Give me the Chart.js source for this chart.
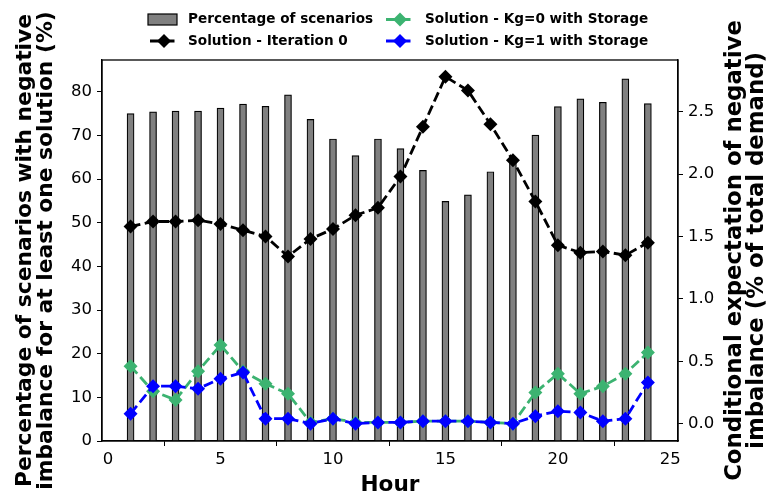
<!DOCTYPE html>
<html>
<head>
<meta charset="utf-8">
<script src="https://cdn.jsdelivr.net/npm/chart.js@4.4.1/dist/chart.umd.min.js"></script>
<style>
  html, body { margin: 0; padding: 0; background: #fff; }
  #wrap { width: 768px; height: 500px; }
</style>
</head>
<body>
<div id="wrap"><canvas id="imbalanceChart" width="768" height="500"></canvas></div>
<script>
// hourly results
const hours = [1, 2, 3, 4, 5, 6, 7, 8, 9, 10, 11, 12, 13, 14, 15, 16, 17, 18, 19, 20, 21, 22, 23, 24];
const pctScenarios = [75.0, 75.4, 75.6, 75.6, 76.3, 77.2, 76.7, 79.3, 73.7, 69.2, 65.4, 69.2,
  67.0, 62.0, 54.9, 56.4, 61.7, 64.0, 70.1, 76.6, 78.4, 77.6, 83.0, 77.3];
const iteration0 = [1.58, 1.62, 1.62, 1.63, 1.60, 1.55, 1.50, 1.34, 1.48, 1.56, 1.67, 1.73,
  1.98, 2.38, 2.78, 2.67, 2.40, 2.11, 1.78, 1.43, 1.37, 1.38, 1.35, 1.45];
const kg0Storage = [0.46, 0.26, 0.19, 0.42, 0.63, 0.42, 0.32, 0.24, 0.01, 0.04, 0.01, 0.01,
  0.01, 0.02, 0.02, 0.02, 0.01, 0.0, 0.25, 0.40, 0.24, 0.30, 0.40, 0.57];
const kg1Storage = [0.08, 0.30, 0.30, 0.28, 0.36, 0.41, 0.04, 0.04, 0.0, 0.04, 0.0, 0.01,
  0.01, 0.02, 0.02, 0.02, 0.01, 0.0, 0.06, 0.10, 0.09, 0.02, 0.04, 0.33];

// tick labels
const hourTicks = [0, 5, 10, 15, 20, 25];
const pctTicks = [0, 10, 20, 30, 40, 50, 60, 70, 80];
const expTicks = [0, 0.5, 1.0, 1.5, 2.0, 2.5];

const FONT = "'DejaVu Sans', 'Liberation Sans', sans-serif";
const GREEN = "#3cb371";
const BLUE = "#0000ff";

function pairs(ys) {
  return hours.map((h, i) => ({ x: h, y: ys[i] }));
}

function fixTicks(list) {
  return function (axis) {
    axis.ticks = list.map((v) => ({ value: v }));
  };
}

function lineSet(label, ys, color, order) {
  return {
    type: "line",
    label: label,
    data: pairs(ys),
    yAxisID: "y2",
    borderColor: color,
    backgroundColor: color,
    borderWidth: 2.8,
    borderDash: [10, 4.5],
    pointStyle: "rectRot",
    pointRadius: 7,
    pointHoverRadius: 7,
    pointBorderWidth: 0,
    pointBackgroundColor: color,
    tension: 0,
    fill: false,
    order: order,
  };
}

// axis titles, legend and the top spine
const decorations = {
  id: "decorations",
  afterDraw(chart) {
    const ctx = chart.ctx;
    const area = chart.chartArea;
    const midY = (area.top + area.bottom) / 2;
    ctx.save();

    ctx.strokeStyle = "#000";
    ctx.lineWidth = 1.3;
    ctx.strokeRect(area.left, area.top, area.right - area.left, area.bottom - area.top);

    ctx.fillStyle = "#000";
    ctx.font = "bold 21.6px " + FONT;
    ctx.textAlign = "center";
    ctx.textBaseline = "alphabetic";
    ctx.fillText("Hour", (area.left + area.right) / 2, 491);

    function vertical(text, x) {
      ctx.save();
      ctx.translate(x, midY);
      ctx.rotate(-Math.PI / 2);
      ctx.fillText(text, 0, 0);
      ctx.restore();
    }
    ctx.font = "bold 21.8px " + FONT;
    vertical("Percentage of scenarios with negative", 31);
    vertical("imbalance for at least one solution (%)", 52);
    ctx.font = "bold 22.8px " + FONT;
    vertical("Conditional expectation of negative", 741);
    vertical("imbalance (% of total demand)", 763);

    // legend
    ctx.font = "bold 13.6px " + FONT;
    ctx.textAlign = "left";
    ctx.textBaseline = "middle";
    const row1 = 19.5, row2 = 41;

    ctx.fillStyle = "#808080";
    ctx.fillRect(148, 14, 29, 11);
    ctx.lineWidth = 1.2;
    ctx.strokeRect(148, 14, 29, 11);
    ctx.fillStyle = "#000";
    ctx.fillText("Percentage of scenarios", 188, row1);

    function marker(cx, cy, color) {
      ctx.strokeStyle = color;
      ctx.fillStyle = color;
      ctx.lineWidth = 2.8;
      ctx.setLineDash([10, 4.5]);
      ctx.beginPath();
      ctx.moveTo(cx - 14, cy);
      ctx.lineTo(cx + 14, cy);
      ctx.stroke();
      ctx.setLineDash([]);
      ctx.beginPath();
      ctx.moveTo(cx, cy - 7);
      ctx.lineTo(cx + 7, cy);
      ctx.lineTo(cx, cy + 7);
      ctx.lineTo(cx - 7, cy);
      ctx.closePath();
      ctx.fill();
    }
    marker(164, row2, "#000");
    marker(400, row1, GREEN);
    marker(400, row2, BLUE);

    ctx.fillStyle = "#000";
    ctx.fillText("Solution - Iteration 0", 188, row2);
    ctx.fillText("Solution - Kg=0 with Storage", 425, row1);
    ctx.fillText("Solution - Kg=1 with Storage", 425, row2);

    ctx.restore();
  },
};

const ctx = document.getElementById("imbalanceChart").getContext("2d");

new Chart(ctx, {
  type: "bar",
  data: {
    datasets: [
      {
        type: "bar",
        label: "Percentage of scenarios",
        data: pairs(pctScenarios),
        yAxisID: "y",
        backgroundColor: "#808080",
        borderColor: "#000",
        borderWidth: 1.2,
        barThickness: 7,
        order: 4,
      },
      lineSet("Solution - Iteration 0", iteration0, "#000", 3),
      lineSet("Solution - Kg=0 with Storage", kg0Storage, GREEN, 2),
      lineSet("Solution - Kg=1 with Storage", kg1Storage, BLUE, 1),
    ],
  },
  options: {
    responsive: false,
    animation: false,
    devicePixelRatio: 1,
    layout: { padding: { top: 60, left: 0, right: 0, bottom: 0 } },
    plugins: {
      legend: { display: false },
      tooltip: { enabled: false },
    },
    scales: {
      x: {
        type: "linear",
        min: -0.27,
        max: 25.34,
        offset: false,
        afterBuildTicks: fixTicks(hourTicks),
        afterFit(scale) { scale.height = 59; },
        grid: { drawOnChartArea: false, tickLength: 5, color: "#000", lineWidth: 1 },
        border: { color: "#000", width: 1.3 },
        ticks: { font: { family: FONT, size: 16.5 }, color: "#000", padding: 4, maxRotation: 0 },
      },
      y: {
        position: "left",
        min: 0,
        max: 87.3,
        afterBuildTicks: fixTicks(pctTicks),
        afterFit(scale) { scale.width = 102; },
        grid: { drawOnChartArea: false, tickLength: 5, color: "#000", lineWidth: 1 },
        border: { color: "#000", width: 1.3 },
        ticks: { font: { family: FONT, size: 16.5 }, color: "#000", padding: 5 },
      },
      y2: {
        position: "right",
        min: -0.139,
        max: 2.914,
        afterBuildTicks: fixTicks(expTicks),
        afterFit(scale) { scale.width = 90; },
        grid: { drawOnChartArea: false, tickLength: 5, color: "#000", lineWidth: 1 },
        border: { color: "#000", width: 1.3 },
        ticks: {
          font: { family: FONT, size: 16.5 },
          color: "#000",
          padding: 5,
          callback: (v) => v.toFixed(1),
        },
      },
    },
  },
  plugins: [decorations],
});
</script>
</body>
</html>
